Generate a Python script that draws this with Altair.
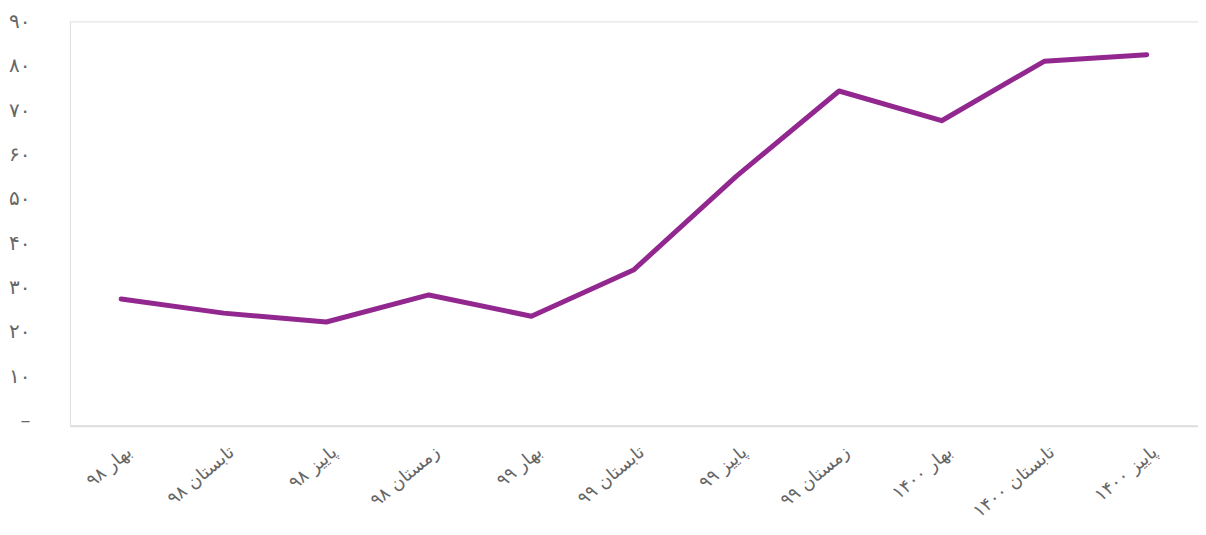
import altair as alt
import pandas as pd

quarters = ["بهار ۹۸", "تابستان ۹۸", "پاییز ۹۸", "زمستان ۹۸", "بهار ۹۹", "تابستان ۹۹",
            "پاییز ۹۹", "زمستان ۹۹", "بهار ۱۴۰۰", "تابستان ۱۴۰۰", "پاییز ۱۴۰۰"]
values = [27.4, 24.2, 22.2, 28.3, 23.5, 34.0, 55.1, 74.3, 67.6, 81.0, 82.5]
y_ticks = [0, 10, 20, 30, 40, 50, 60, 70, 80, 90]
persian_digits = ["۰", "۱", "۲", "۳", "۴", "۵", "۶", "۷", "۸", "۹"]
zero_label = "–"

df = pd.DataFrame({"quarter": quarters, "value": values})

digits_js = "[" + ",".join("'" + d + "'" for d in persian_digits) + "]"
y_label_expr = (f"datum.value == 0 ? '{zero_label}' : "
                f"{digits_js}[floor(datum.value / 10)] + '{persian_digits[0]}'")

FONT = "DejaVu Sans"

chart = alt.Chart(df).mark_line(
    color="#92278f", strokeWidth=5, strokeCap="round", strokeJoin="round"
).encode(
    x=alt.X("quarter:N", sort=quarters,
            scale=alt.Scale(type="point", padding=0.5),
            axis=alt.Axis(title=None, labelAngle=-40, labelAlign="right",
                          labelBaseline="middle", labelFontSize=18,
                          labelColor="#666666", labelFont=FONT,
                          labelPadding=24, labelOffset=8,
                          ticks=False, domain=True, domainColor="#dddddd",
                          domainWidth=2, grid=False)),
    y=alt.Y("value:Q",
            scale=alt.Scale(domain=[-1.2, 90], nice=False, zero=False),
            axis=alt.Axis(title=None, values=y_ticks, labelExpr=y_label_expr,
                          labelFontSize=20, labelColor="#666666", labelFont=FONT,
                          labelPadding=40, ticks=False, domain=False, grid=False)),
).properties(
    width=1130, height=405,
    autosize=alt.AutoSizeParams(type="none"),
    padding={"left": 62, "top": 13, "right": 0, "bottom": 100},
).configure_view(
    stroke="transparent", strokeWidth=0, fill="#fcfcfc"
).configure(background="white")

chart.save("out.html", embed_options={"renderer": "svg", "actions": False})
